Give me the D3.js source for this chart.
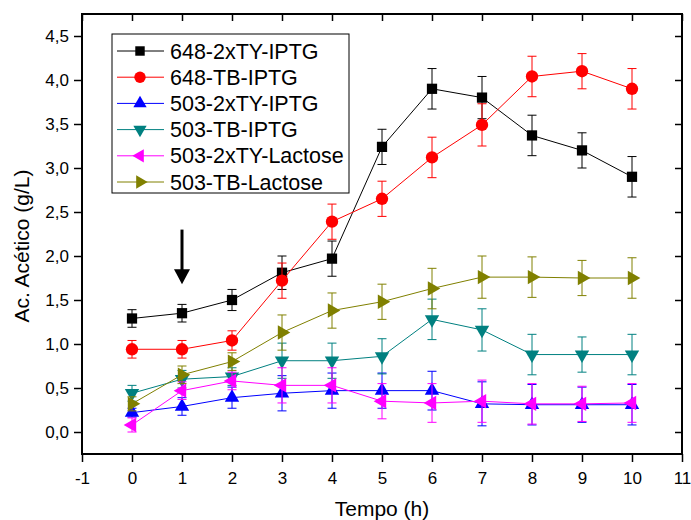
<!DOCTYPE html>
<html>
<head>
<meta charset="utf-8">
<script src="https://cdn.jsdelivr.net/npm/d3@7"></script>
<style>
body{margin:0;background:#fff;}
svg{display:block;font-family:"Liberation Sans",Arial,sans-serif;}
</style>
</head>
<body>
<svg width="691" height="520"></svg>
<script>
// dados
var tempo = [0,1,2,3,4,5,6,7,8,9,10];
var nomes = ["648-2xTY-IPTG","648-TB-IPTG","503-2xTY-IPTG","503-TB-IPTG","503-2xTY-Lactose","503-TB-Lactose"];
var v648_2xTY_IPTG = [1.29,1.35,1.50,1.81,1.97,3.24,3.90,3.80,3.37,3.20,2.90];
var e648_2xTY_IPTG = [0.10,0.10,0.12,0.19,0.20,0.20,0.23,0.24,0.23,0.20,0.23];
var v648_TB_IPTG   = [0.94,0.94,1.04,1.72,2.39,2.65,3.12,3.49,4.04,4.10,3.90];
var e648_TB_IPTG   = [0.10,0.10,0.11,0.20,0.20,0.20,0.23,0.24,0.23,0.20,0.23];
var v503_2xTY_IPTG = [0.22,0.29,0.39,0.44,0.47,0.47,0.47,0.32,0.31,0.31,0.31];
var e503_2xTY_IPTG = [0.05,0.10,0.12,0.20,0.20,0.20,0.22,0.25,0.23,0.20,0.23];
var v503_TB_IPTG   = [0.44,0.60,0.63,0.81,0.81,0.86,1.28,1.16,0.88,0.88,0.88];
var e503_TB_IPTG   = [0.09,0.10,0.10,0.20,0.20,0.20,0.23,0.24,0.23,0.20,0.23];
var v503_2xTY_Lac  = [0.08,0.47,0.58,0.53,0.53,0.35,0.33,0.35,0.32,0.32,0.33];
var e503_2xTY_Lac  = [0.08,0.10,0.10,0.20,0.20,0.20,0.22,0.24,0.23,0.20,0.22];
var v503_TB_Lac    = [0.32,0.65,0.80,1.13,1.38,1.48,1.63,1.76,1.76,1.75,1.75];
var e503_TB_Lac    = [0.08,0.10,0.10,0.20,0.20,0.20,0.23,0.24,0.23,0.20,0.23];
var xTicks = [-1,0,1,2,3,4,5,6,7,8,9,10,11];
var yTicks = [0,0.5,1,1.5,2,2.5,3,3.5,4,4.5];
var seta = {t:1, de:2.30, ate:1.68};//seta de indução

var series = [
  {nome:nomes[0], v:v648_2xTY_IPTG, e:e648_2xTY_IPTG, cor:"#000000", simb:d3.symbolSquare, rot:0, area:105},
  {nome:nomes[1], v:v648_TB_IPTG,   e:e648_TB_IPTG,   cor:"#ff0000", simb:d3.symbolCircle, rot:0, area:120},
  {nome:nomes[2], v:v503_2xTY_IPTG, e:e503_2xTY_IPTG, cor:"#0000ff", simb:d3.symbolTriangle, rot:0, area:90},
  {nome:nomes[3], v:v503_TB_IPTG,   e:e503_TB_IPTG,   cor:"#008080", simb:d3.symbolTriangle, rot:180, area:90},
  {nome:nomes[4], v:v503_2xTY_Lac,  e:e503_2xTY_Lac,  cor:"#ff00ff", simb:d3.symbolTriangle, rot:-90, area:90},
  {nome:nomes[5], v:v503_TB_Lac,    e:e503_TB_Lac,    cor:"#808000", simb:d3.symbolTriangle, rot:90, area:90}
];

var svg = d3.select("svg");
var esq = 82, dir = 682, topo = 14, base = 454;

var x = d3.scaleLinear().domain([-1,11]).range([esq,dir]);
var y = d3.scaleLinear().domain([-0.25,4.75]).range([base,topo]);

var fmt = d => d3.format(".1f")(d).replace(".",",");
var menoresX = d3.range(-1,11,1).map(d=>d+0.5);
var menoresY = d3.range(-0.25,4.75,0.5).map(d=>+d.toFixed(2));

// eixos
var gx = svg.append("g").attr("transform","translate(0,"+base+")");
gx.call(d3.axisBottom(x).tickValues(menoresX).tickSize(5).tickFormat(""));
gx.call(d3.axisBottom(x).tickValues(xTicks).tickSize(8).tickPadding(10).tickFormat(d=>String(d)));//hífen, não sinal de menos
var gy = svg.append("g").attr("transform","translate("+esq+",0)");
gy.call(d3.axisLeft(y).tickValues(menoresY).tickSize(4).tickFormat(""));
gy.call(d3.axisLeft(y).tickValues(yTicks).tickSize(8).tickPadding(5).tickFormat(fmt));
var gt = svg.append("g").attr("transform","translate(0,"+topo+")");
gt.call(d3.axisBottom(x).tickValues(menoresX).tickSize(4).tickFormat(""));
gt.call(d3.axisBottom(x).tickValues(xTicks).tickSize(7).tickFormat(""));
var gr = svg.append("g").attr("transform","translate("+dir+",0)");
gr.call(d3.axisLeft(y).tickValues(menoresY).tickSize(4).tickFormat(""));
gr.call(d3.axisLeft(y).tickValues(yTicks).tickSize(7).tickFormat(""));

svg.selectAll(".domain").remove();
svg.selectAll(".tick line").attr("stroke","#000").attr("stroke-width",1.5);
svg.selectAll(".tick text").attr("fill","#000").style("font-size","17px").style("font-family","'Liberation Sans',Arial,sans-serif");

svg.append("rect")//moldura
  .attr("x",esq).attr("y",topo).attr("width",dir-esq).attr("height",base-topo)
  .attr("fill","none").attr("stroke","#000").attr("stroke-width",2);

// títulos
svg.append("text").attr("x",(esq+dir)/2).attr("y",516).attr("text-anchor","middle")
  .style("font-size","21px").text("Tempo (h)");
svg.append("text").attr("transform","translate(29,246) rotate(-90)")
  .attr("text-anchor","middle").style("font-size","21px").text("Ac. Acético (g/L)");

// séries
var linha = d3.line().x((d,i)=>x(tempo[i])).y(d=>y(d));
series.forEach(s=>{
  var g = svg.append("g");
  g.append("path").attr("d",linha(s.v)).attr("fill","none").attr("stroke",s.cor).attr("stroke-width",1);
  var eb = g.selectAll(".eb").data(s.v).enter().append("g");
  eb.append("line")
    .attr("x1",(d,i)=>x(tempo[i])).attr("x2",(d,i)=>x(tempo[i]))
    .attr("y1",(d,i)=>y(d+s.e[i])).attr("y2",(d,i)=>y(d-s.e[i]))
    .attr("stroke",s.cor).attr("stroke-width",1);
  [1,-1].forEach(k=>{
    eb.append("line")
      .attr("x1",(d,i)=>x(tempo[i])-4.5).attr("x2",(d,i)=>x(tempo[i])+4.5)
      .attr("y1",(d,i)=>y(d+k*s.e[i])).attr("y2",(d,i)=>y(d+k*s.e[i]))
      .attr("stroke",s.cor).attr("stroke-width",1);
  });
  g.selectAll(".m").data(s.v).enter().append("path")
    .attr("d",d3.symbol().type(s.simb).size(s.area))
    .attr("transform",(d,i)=>"translate("+x(tempo[i])+","+y(d)+") rotate("+s.rot+")")
    .attr("fill",s.cor);
});

// seta
svg.append("line").attr("x1",x(seta.t)).attr("x2",x(seta.t))
  .attr("y1",y(seta.de)).attr("y2",y(seta.ate)-12)
  .attr("stroke","#000").attr("stroke-width",3);
svg.append("path")
  .attr("d","M"+(x(seta.t)-8)+","+(y(seta.ate)-15)+"L"+(x(seta.t)+8)+","+(y(seta.ate)-15)+"L"+x(seta.t)+","+y(seta.ate)+"Z")
  .attr("fill","#000");

// legenda
var leg = svg.append("g").attr("transform","translate(112,34)");
leg.append("rect").attr("width",237).attr("height",159).attr("fill","#fff").attr("stroke","#000").attr("stroke-width",1);
var itens = leg.selectAll(".it").data(series).enter().append("g")
  .attr("transform",(d,i)=>"translate(0,"+(17+i*26.2)+")");
itens.append("line").attr("x1",5).attr("x2",52).attr("stroke",d=>d.cor).attr("stroke-width",1);
itens.append("path").attr("d",d=>d3.symbol().type(d.simb).size(d.area*0.85)())
  .attr("transform",d=>"translate(28,0) rotate("+d.rot+")").attr("fill",d=>d.cor);
itens.append("text").attr("x",58).attr("y",7.5).style("font-size","21.5px").text(d=>d.nome);
</script>
</body>
</html>
